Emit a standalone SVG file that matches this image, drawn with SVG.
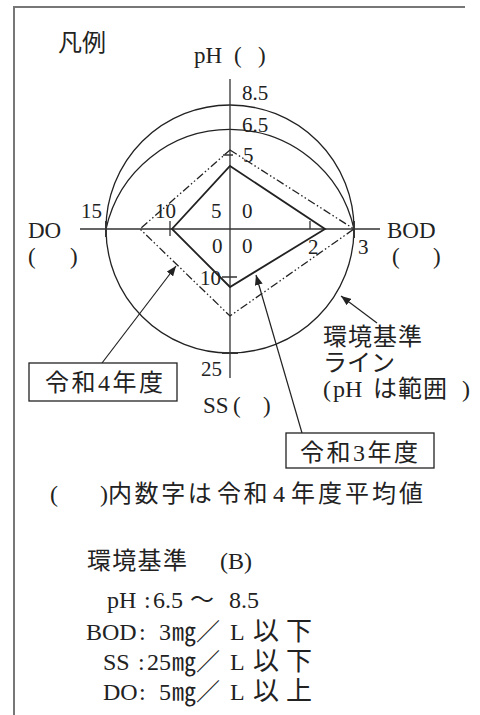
<svg xmlns="http://www.w3.org/2000/svg" width="480" height="715" viewBox="0 0 480 715">
<style>
text{font-family:"Liberation Serif","Noto Sans CJK JP",serif;fill:#222}
.n{font-size:21px}
.l{font-size:23px}
.j{font-size:24px}
.w{font-size:26px;letter-spacing:7px}
.ax{stroke:#333;stroke-width:1.3;fill:none}
.tk{stroke:#333;stroke-width:2;fill:none}
.cir{stroke:#222;stroke-width:1.3;fill:none}
.r3{stroke:#222;stroke-width:1.8;fill:none;stroke-linejoin:miter}
.r4{stroke:#222;stroke-width:1.3;fill:none;stroke-dasharray:8 2.5 1.5 2.5 1.5 2.5}
.ar{stroke:#222;stroke-width:1.2;fill:none}
.box{stroke:#222;stroke-width:1.3;fill:#fff}
.frame{stroke:#777;stroke-width:2;fill:none}
</style>
<defs>
<marker id="ah" viewBox="0 0 10 8" refX="10" refY="4" markerWidth="10" markerHeight="8" markerUnits="userSpaceOnUse" orient="auto">
<path d="M0,0 L10,4 L0,8 Z" fill="#222"/>
</marker>
</defs>
<g id="frame">
<path class="frame" d="M14,715 V7 H465"/>
</g>
<g id="title"><text class="j" x="58" y="51">凡例</text></g>
<g id="chart">
<circle class="cir" cx="230" cy="229" r="124"/>
<path class="cir" d="M106,229 A127,127 0 0 1 354,229"/>
<path class="ax" d="M230,79 V378 M80,229 H380"/>
<path class="tk" d="M106,221 V237 M354,221 V238 M222,353 H238"/>
<path class="ax" d="M170,221 V236 M310,221 V229 M222,277 H237 M223,155 H233"/>
</g>
<g id="series-r4"><polygon class="r4" points="230,150 354,229 230,316 140,229"/></g>
<g id="series-r3"><polygon class="r3" points="230,166 325,229 230,287 172,229"/></g>
<g id="axis-labels">
<text class="l" x="194" y="63">pH<tspan x="234">(</tspan><tspan x="258">)</tspan></text>
<text class="n" x="242" y="100">8.5</text>
<text class="n" x="242" y="132">6.5</text>
<text class="n" x="243" y="162">5</text>
<text class="n" x="81" y="218">15</text>
<text class="n" x="155" y="218">10</text>
<text class="n" x="211" y="218">5</text>
<text class="n" x="242" y="218">0</text>
<text class="l" x="28" y="238">DO</text>
<text class="l" x="387" y="238">BOD</text>
<text class="l" x="28" y="264">(<tspan x="70">)</tspan></text>
<text class="l" x="392" y="264">(<tspan x="433">)</tspan></text>
<text class="n" x="212" y="253">0</text>
<text class="n" x="242" y="253">0</text>
<text class="n" x="308" y="254">2</text>
<text class="n" x="358" y="254">3</text>
<text class="n" x="200" y="285">10</text>
<text class="n" x="201" y="376">25</text>
<text class="l" x="203" y="413">SS<tspan x="233">(</tspan><tspan x="263">)</tspan></text>
</g>
<g id="connectors">
<line class="ar" x1="102" y1="363" x2="176" y2="266" marker-end="url(#ah)"/>
<line class="ar" x1="302" y1="433" x2="256" y2="275" marker-end="url(#ah)"/>
<line class="ar" x1="377" y1="323" x2="341" y2="296" marker-end="url(#ah)"/>
</g>
<g id="label-r4">
<rect class="box" x="29" y="363" width="148" height="38"/>
<text class="j" x="45" y="391" textLength="118" lengthAdjust="spacing">令和4年度</text>
</g>
<g id="label-r3">
<rect class="box" x="286" y="433" width="148" height="35"/>
<text class="j" x="300" y="461" textLength="118" lengthAdjust="spacing">令和3年度</text>
</g>
<g id="label-standard">
<text class="j" x="323" y="345" letter-spacing="1">環境基準</text>
<text class="j" x="323" y="371">ライン</text>
<text class="j" x="323" y="397">(<tspan x="333">pH</tspan><tspan x="373" letter-spacing="1">は範囲</tspan><tspan x="462">)</tspan></text>
</g>
<g id="note">
<text class="j" x="50" y="502">(<tspan x="100">)</tspan><tspan letter-spacing="2.6">内数字は</tspan><tspan x="217" letter-spacing="2.6">令和</tspan><tspan x="273">4</tspan><tspan x="291" letter-spacing="3">年度平均値</tspan></text>
</g>
<g id="standards">
<text class="j" x="87" y="569"><tspan letter-spacing="1.3">環境基準</tspan><tspan x="220">(B)</tspan></text>
<text class="j" x="107" y="608">pH<tspan x="144">:</tspan><tspan x="153">6.5</tspan><tspan x="190">～</tspan><tspan x="229">8.5</tspan></text>
<text class="j" x="86" y="640">BOD<tspan x="139">:</tspan><tspan x="159">3</tspan><tspan x="172">㎎</tspan><tspan x="196">／</tspan><tspan x="230">L</tspan><tspan x="253" class="w">以下</tspan></text>
<text class="j" x="103" y="670">SS<tspan x="138">:</tspan><tspan x="147">25</tspan><tspan x="172">㎎</tspan><tspan x="196">／</tspan><tspan x="230">L</tspan><tspan x="253" class="w">以下</tspan></text>
<text class="j" x="103" y="700">DO<tspan x="139">:</tspan><tspan x="159">5</tspan><tspan x="172">㎎</tspan><tspan x="196">／</tspan><tspan x="230">L</tspan><tspan x="253" class="w">以上</tspan></text>
</g>
</svg>
